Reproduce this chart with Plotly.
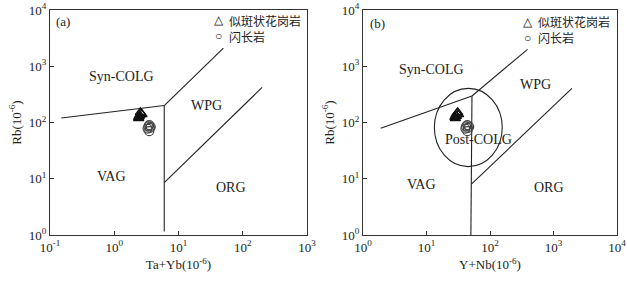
import plotly.graph_objects as go

# ---- data ----
# Panel (a): Ta+Yb vs Rb
gran_tayb = [2.4, 2.5, 2.6, 2.55, 2.45, 2.7, 2.4]
gran_rb_a = [125, 135, 145, 152, 130, 140, 118]
dior_tayb = [3.4, 3.6, 3.5, 3.3, 3.5, 3.7]
dior_rb_a = [85, 80, 90, 78, 70, 84]
# Panel (b): Y+Nb vs Rb
gran_ynb = [28, 29, 30, 31, 29.5, 32, 28.5]
gran_rb_b = [125, 135, 145, 152, 130, 140, 118]
dior_ynb = [42, 45, 44, 41, 44, 47]
dior_rb_b = [85, 80, 90, 78, 70, 84]

# Pearce et al. (1984) boundaries
a_syn_vag_x = [0.15, 6]
a_syn_vag_y = [120, 200]
a_syn_wpg_x = [6, 50]
a_syn_wpg_y = [200, 2100]
a_vert_x = [6, 6]
a_vert_y = [200, 1.15]
a_wpg_org_x = [6, 200]
a_wpg_org_y = [8.5, 420]

b_syn_vag_x = [1.9, 52]
b_syn_vag_y = [79, 296]
b_syn_wpg_x = [52, 390]
b_syn_wpg_y = [296, 2000]
b_vert_x = [52, 50]
b_vert_y = [296, 1]
b_wpg_org_x = [51, 1950]
b_wpg_org_y = [8, 405]

xticks_a = [0.1, 1, 10, 100, 1000]
xticklabels_a = ["10<sup>-1</sup>", "10<sup>0</sup>", "10<sup>1</sup>", "10<sup>2</sup>", "10<sup>3</sup>"]
xticks_b = [1, 10, 100, 1000, 10000]
xticklabels_b = ["10<sup>0</sup>", "10<sup>1</sup>", "10<sup>2</sup>", "10<sup>3</sup>", "10<sup>4</sup>"]
yticks = [1, 10, 100, 1000, 10000]
yticklabels = ["10<sup>0</sup>", "10<sup>1</sup>", "10<sup>2</sup>", "10<sup>3</sup>", "10<sup>4</sup>"]

legend_symbols = ["△", "○"]
legend_names = ["似斑状花岗岩", "闪长岩"]

SERIF = "Liberation Serif, Times New Roman, serif"
CJK = "Noto Sans CJK SC"

fig = go.Figure()

def line(x, y, xa, ya):
    fig.add_trace(go.Scatter(x=x, y=y, mode="lines", line=dict(color="#222", width=1.1),
                             xaxis=xa, yaxis=ya, showlegend=False, hoverinfo="skip"))

for xs, ys in [(a_syn_vag_x, a_syn_vag_y), (a_syn_wpg_x, a_syn_wpg_y),
               (a_vert_x, a_vert_y), (a_wpg_org_x, a_wpg_org_y)]:
    line(xs, ys, "x", "y")
for xs, ys in [(b_syn_vag_x, b_syn_vag_y), (b_syn_wpg_x, b_syn_wpg_y),
               (b_vert_x, b_vert_y), (b_wpg_org_x, b_wpg_org_y)]:
    line(xs, ys, "x2", "y2")

tri = dict(symbol="triangle-up-open", size=9, color="#111", line=dict(width=1.2))
circ = dict(symbol="circle-open", size=9, color="#444", line=dict(width=1.2))

fig.add_trace(go.Scatter(x=gran_tayb, y=gran_rb_a, mode="markers", marker=tri, xaxis="x", yaxis="y", showlegend=False))
fig.add_trace(go.Scatter(x=dior_tayb, y=dior_rb_a, mode="markers", marker=circ, xaxis="x", yaxis="y", showlegend=False))
fig.add_trace(go.Scatter(x=gran_ynb, y=gran_rb_b, mode="markers", marker=tri, xaxis="x2", yaxis="y2", showlegend=False))
fig.add_trace(go.Scatter(x=dior_ynb, y=dior_rb_b, mode="markers", marker=circ, xaxis="x2", yaxis="y2", showlegend=False))

W, H = 627, 281
ydom = [1 - 235 / H, 1 - 10 / H]
axcommon = dict(type="log", showgrid=False, zeroline=False, showline=True, linecolor="#333",
                linewidth=1, mirror=True, ticks="inside", ticklen=4, tickcolor="#333", automargin=False,
                tickfont=dict(family=SERIF, size=13, color="#222"), tickmode="array")
tfont = dict(family=SERIF, size=13, color="#222")

fig.update_layout(
    width=W, height=H, margin=dict(l=0, r=0, t=0, b=0),
    paper_bgcolor="white", plot_bgcolor="white",
    xaxis=dict(axcommon, domain=[50 / W, 307 / W], range=[-1, 3], tickvals=xticks_a, ticktext=xticklabels_a, anchor="y",
               title=dict(text="Ta+Yb(10<sup>-6</sup>)", font=tfont, standoff=6)),
    yaxis=dict(axcommon, domain=ydom, range=[0, 4], tickvals=yticks, ticktext=yticklabels, anchor="x",
               title=dict(text="Rb(10<sup>-6</sup>)", font=tfont, standoff=4)),
    xaxis2=dict(axcommon, domain=[363 / W, 617 / W], range=[0, 4], tickvals=xticks_b, ticktext=xticklabels_b, anchor="y2",
                title=dict(text="Y+Nb(10<sup>-6</sup>)", font=tfont, standoff=6)),
    yaxis2=dict(axcommon, domain=ydom, range=[0, 4], tickvals=yticks, ticktext=yticklabels, anchor="x2",
                title=dict(text="Rb(10<sup>-6</sup>)", font=tfont, standoff=4)),
)

# Post-COLG circle (panel b)
fig.add_shape(type="circle", xref="x2", yref="y2", x0=13.3, x1=156, y0=16.4, y1=405,
              line=dict(color="#222", width=1.1))

def lab(text, x, y, xr, yr, size=14, font=SERIF, xanchor="center"):
    fig.add_annotation(text=text, x=x, y=y, xref=xr, yref=yr, showarrow=False,
                       font=dict(family=font, size=size, color="#222"), xanchor=xanchor, yanchor="middle")

# panel (a) labels (log coordinates)
lab("(a)", -0.8, 3.79, "x", "y", 13)
lab("Syn-COLG", 0.12, 2.81, "x", "y")
lab("WPG", 1.437, 2.311, "x", "y")
lab("VAG", -0.04, 1.036, "x", "y")
lab("ORG", 1.815, 0.841, "x", "y")
# panel (b) labels
lab("(b)", 0.23, 3.76, "x2", "y2", 13)
lab("Syn-COLG", 1.08, 2.946, "x2", "y2")
lab("WPG", 2.72, 2.667, "x2", "y2")
lab("Post-COLG", 1.816, 1.689, "x2", "y2")
lab("VAG", 0.924, 0.889, "x2", "y2")
lab("ORG", 2.934, 0.848, "x2", "y2")

# legends (paper coords)
def legend(xpx, ymid):
    fig.add_annotation(text="<br>".join(legend_symbols), x=xpx / W, y=1 - ymid / H, xref="paper", yref="paper",
                       showarrow=False, xanchor="center", yanchor="middle", borderpad=0, align="center",
                       font=dict(family=SERIF, size=12, color="#111"))
    fig.add_annotation(text="<br>".join(legend_names), x=(xpx + 9) / W, y=1 - ymid / H, xref="paper", yref="paper",
                       showarrow=False, xanchor="left", yanchor="middle", borderpad=0, align="left",
                       font=dict(family=CJK, size=12, color="#222"))

legend(218.5, 28)
legend(527.5, 30)

fig.write_html("out.html", config={"displayModeBar": False},
               post_script="document.body.style.margin='0';")
